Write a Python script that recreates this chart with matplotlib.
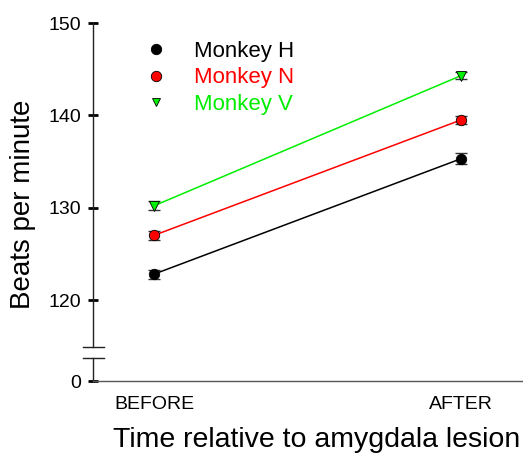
import numpy as np
import matplotlib.pyplot as plt
from matplotlib.lines import Line2D

plt.rcParams['font.family'] = ['Liberation Sans', 'DejaVu Sans']

# data
conditions = ['BEFORE', 'AFTER']
monkeys = ['Monkey H', 'Monkey N', 'Monkey V']
bpm_h = [122.8, 135.3]
bpm_n = [127.0, 139.5]
bpm_v = [130.2, 144.3]
err_h = [0.5, 0.6]
err_n = [0.5, 0.45]
err_v = [0.5, 0.4]
colors = ['black', '#ff0000', '#00ee00']
markers = ['o', 'o', 'v']

W, H = 523, 455
fig = plt.figure(figsize=(W / 100, H / 100), dpi=100)

def px(x0, y0, x1, y1):
    # pixel box (top-left origin) -> figure fraction
    return [x0 / W, 1 - y1 / H, (x1 - x0) / W, (y1 - y0) / H]

ax = fig.add_axes(px(93, 23, 523, 347))
axb = fig.add_axes(px(93, 358, 523, 381))

x = np.arange(len(conditions))
for vals, errs, c, m, lab in zip([bpm_h, bpm_n, bpm_v], [err_h, err_n, err_v], colors, markers, monkeys):
    ax.plot(x, vals, color=c, lw=1.1, zorder=2)
    ax.errorbar(x, vals, yerr=errs, fmt='none', ecolor='#333333', elinewidth=1, capsize=4.3, capthick=1, zorder=3)
    ax.plot(x, vals, ls='none', marker=m, ms=7.5, mfc=c, mec='black', mew=0.6, zorder=4, label=lab)

xlim = (-61 / 307, 369 / 307)
ax.set_xlim(xlim)
axb.set_xlim(xlim)
ax.set_ylim(114.91, 150)
ax.set_yticks([120, 130, 140, 150])
axb.set_ylim(0, 1)
axb.set_yticks([0])

for a in (ax, axb):
    for s in ['top', 'right']:
        a.spines[s].set_visible(False)
    a.spines['left'].set_color('#222222')
    a.spines['left'].set_linewidth(1)
    a.tick_params(axis='y', direction='inout', length=7.5, width=2, labelsize=14, pad=5)
    a.patch.set_visible(False)
ax.spines['bottom'].set_visible(False)
ax.set_xticks([])
axb.spines['bottom'].set_color('#555555')
axb.spines['bottom'].set_linewidth(1)
axb.set_xticks(x)
axb.set_xticklabels(conditions)
axb.tick_params(axis='x', length=0, labelsize=14, pad=11)

# axis break marks
for yb in (347, 358):
    fig.add_artist(Line2D([83 / W, 104 / W], [1 - yb / H, 1 - yb / H], color='#222222', lw=1))

# legend
handles = [Line2D([], [], ls='none', marker=m, ms=7.5 if m == 'o' else 6, mfc=c, mec='black', mew=0.6)
           for c, m in zip(colors, markers)]
leg = ax.legend(handles, monkeys, loc='upper left', bbox_to_anchor=(132 / W, 1 - 30 / H),
                bbox_transform=fig.transFigure, frameon=False, fontsize=16,
                handlelength=1.2, handletextpad=1.1, labelspacing=0.24, borderpad=0)
for t, c in zip(leg.get_texts(), colors):
    t.set_color(c)

fig.text(23 / W, 1 - 204 / H, 'Beats per minute', rotation=90, ha='center', va='center', fontsize=20)
fig.text(317 / W, 1 - 447 / H, 'Time relative to amygdala lesion', ha='center', va='baseline', fontsize=20.5)

fig.savefig('out.png', dpi=100)
